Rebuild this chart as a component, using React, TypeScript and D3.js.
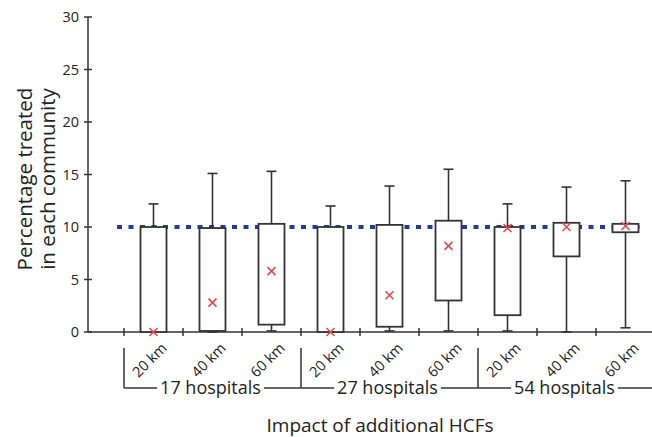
import React, { useEffect, useRef } from "react";
import * as d3 from "d3";

const categories = ["17-20", "17-40", "17-60", "27-20", "27-40", "27-60", "54-20", "54-40", "54-60"];
const distanceLabels = ["20 km", "40 km", "60 km", "20 km", "40 km", "60 km", "20 km", "40 km", "60 km"];
const groupLabels = ["17 hospitals", "27 hospitals", "54 hospitals"];
const whiskerLow = [0, 0, 0.1, 0, 0.1, 0.1, 0.1, 0, 0.4];
const q1Values = [0, 0.1, 0.7, 0, 0.5, 3.0, 1.6, 7.2, 9.5];
const q3Values = [10.0, 9.9, 10.3, 10.0, 10.2, 10.6, 10.0, 10.4, 10.3];
const whiskerHigh = [12.2, 15.1, 15.3, 12.0, 13.9, 15.5, 12.2, 13.8, 14.4];
const meanValues = [0, 2.8, 5.8, 0, 3.5, 8.2, 9.9, 10.0, 10.1];
const yTicks = [0, 5, 10, 15, 20, 25, 30];
const targetValue = 10;

const W = 652;
const H = 437;
const FONT = "'Open Sans', 'Noto Sans', sans-serif";
const INK = "#333";

export default function App() {
  const ref = useRef<SVGSVGElement | null>(null);

  useEffect(() => {
    const svg = d3.select(ref.current);
    svg.selectAll("*").remove();

    const x = d3.scaleBand<string>().domain(categories).range([124, 655]).padding(0);
    const y = d3.scaleLinear().domain([0, 30]).range([332, 17]);
    const axisX = 88;
    const boxW = 26;
    const capW = 10;

    // Y axis
    svg.append("line").attr("x1", axisX).attr("x2", axisX).attr("y1", y(30)).attr("y2", y(0))
      .attr("stroke", INK).attr("stroke-width", 1.5);
    const yt = svg.append("g");
    yTicks.forEach((t) => {
      yt.append("line").attr("x1", axisX - 4).attr("x2", axisX + 4).attr("y1", y(t)).attr("y2", y(t))
        .attr("stroke", INK).attr("stroke-width", 1.5);
      yt.append("text").attr("x", axisX - 9).attr("y", y(t)).attr("dy", "0.35em")
        .attr("text-anchor", "end").attr("font-family", FONT).attr("font-size", 14.5)
        .attr("fill", "#222").text(String(t));
    });

    // X axis
    svg.append("line").attr("x1", axisX).attr("x2", W).attr("y1", y(0)).attr("y2", y(0))
      .attr("stroke", INK).attr("stroke-width", 1.5);
    categories.forEach((c) => {
      const bx = x(c)!;
      svg.append("line").attr("x1", bx).attr("x2", bx).attr("y1", y(0) - 4).attr("y2", y(0) + 4)
        .attr("stroke", INK).attr("stroke-width", 1.5);
    });

    // Target dotted line
    svg.append("line").attr("x1", 117).attr("x2", 646).attr("y1", y(targetValue)).attr("y2", y(targetValue))
      .attr("stroke", "#1f3b9c").attr("stroke-width", 4).attr("stroke-dasharray", "5 6.5");

    // Boxes
    categories.forEach((c, i) => {
      const cx = x(c)! + x.bandwidth() / 2;
      const g = svg.append("g");
      g.append("line").attr("x1", cx).attr("x2", cx).attr("y1", y(q3Values[i])).attr("y2", y(whiskerHigh[i]))
        .attr("stroke", INK).attr("stroke-width", 1.6);
      g.append("line").attr("x1", cx - capW / 2).attr("x2", cx + capW / 2)
        .attr("y1", y(whiskerHigh[i])).attr("y2", y(whiskerHigh[i])).attr("stroke", INK).attr("stroke-width", 1.6);
      if (q1Values[i] > whiskerLow[i]) {
        g.append("line").attr("x1", cx).attr("x2", cx).attr("y1", y(q1Values[i])).attr("y2", y(whiskerLow[i]))
          .attr("stroke", INK).attr("stroke-width", 1.6);
        g.append("line").attr("x1", cx - capW / 2).attr("x2", cx + capW / 2)
          .attr("y1", y(whiskerLow[i])).attr("y2", y(whiskerLow[i])).attr("stroke", INK).attr("stroke-width", 1.6);
      }
      g.append("rect").attr("x", cx - boxW / 2).attr("width", boxW)
        .attr("y", y(q3Values[i])).attr("height", Math.max(y(q1Values[i]) - y(q3Values[i]), 1))
        .attr("fill", "white").attr("stroke", INK).attr("stroke-width", 1.8);
      const my = y(meanValues[i]);
      const s = 4;
      g.append("path").attr("d", `M${cx - s},${my - s}L${cx + s},${my + s}M${cx - s},${my + s}L${cx + s},${my - s}`)
        .attr("stroke", "#e5484d").attr("stroke-width", 1.6).attr("fill", "none");
      svg.append("text")
        .attr("transform", `translate(${cx - 4},${360}) rotate(-45)`)
        .attr("text-anchor", "middle").attr("dy", "0.35em")
        .attr("font-family", FONT).attr("font-size", 14.5).attr("fill", "#222")
        .text(distanceLabels[i]);
    });

    // Group brackets
    const bracketY = 388;
    groupLabels.forEach((lab, gi) => {
      const start = x(categories[gi * 3])!;
      const end = gi === groupLabels.length - 1 ? W : x(categories[gi * 3 + 2])! + x.bandwidth();
      const mid = start + (x.bandwidth() * 3) / 2 - 2;
      svg.append("line").attr("x1", start).attr("x2", start).attr("y1", 348).attr("y2", bracketY)
        .attr("stroke", INK).attr("stroke-width", 1.5);
      const t = svg.append("text").attr("x", mid).attr("y", bracketY).attr("dy", "0.33em")
        .attr("text-anchor", "middle").attr("font-family", FONT).attr("font-size", 18).attr("fill", "#222")
        .text(lab);
      const bb = (t.node() as SVGTextElement).getBBox();
      svg.append("line").attr("x1", start).attr("x2", bb.x - 3).attr("y1", bracketY).attr("y2", bracketY)
        .attr("stroke", INK).attr("stroke-width", 1.5);
      svg.append("line").attr("x1", bb.x + bb.width + 3).attr("x2", end).attr("y1", bracketY).attr("y2", bracketY)
        .attr("stroke", INK).attr("stroke-width", 1.5);
    });

    // Axis titles
    svg.append("text").attr("x", 380).attr("y", 432).attr("text-anchor", "middle")
      .attr("font-family", FONT).attr("font-size", 19).attr("fill", "#222")
      .text("Impact of additional HCFs");

    const yl = svg.append("text").attr("transform", `translate(32,179) rotate(-90)`)
      .attr("text-anchor", "middle").attr("font-family", FONT).attr("font-size", 20.5).attr("fill", "#222");
    yl.append("tspan").attr("x", 0).attr("dy", "0").text("Percentage treated");
    yl.append("tspan").attr("x", 0).attr("dy", "1.1em").text("in each community");
  }, []);

  return (
    <svg
      ref={ref}
      width={W}
      height={H}
      style={{ position: "absolute", left: 0, top: 0, background: "white" }}
    />
  );
}
